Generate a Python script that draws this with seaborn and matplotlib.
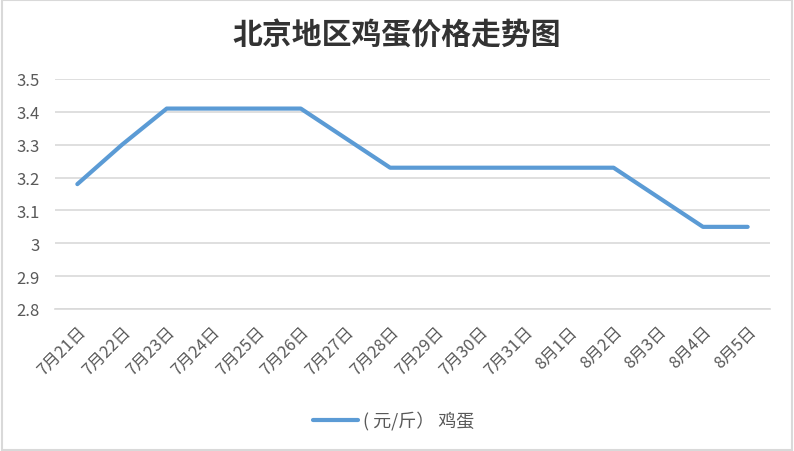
import matplotlib
matplotlib.use("Agg")
import matplotlib.pyplot as plt
import seaborn as sns
import pandas as pd
from matplotlib.patches import Rectangle
from matplotlib.transforms import ScaledTranslation

dates = ["7月21日", "7月22日", "7月23日", "7月24日", "7月25日", "7月26日", "7月27日", "7月28日",
         "7月29日", "7月30日", "7月31日", "8月1日", "8月2日", "8月3日", "8月4日", "8月5日"]
prices = [3.18, 3.30, 3.41, 3.41, 3.41, 3.41, 3.32, 3.23,
          3.23, 3.23, 3.23, 3.23, 3.23, 3.14, 3.05, 3.05]
series_name = "( 元/斤） 鸡蛋"
yticks = [2.8, 2.9, 3.0, 3.1, 3.2, 3.3, 3.4, 3.5]
ytick_labels = ["2.8", "2.9", "3", "3.1", "3.2", "3.3", "3.4", "3.5"]
title = "北京地区鸡蛋价格走势图"

sns.set_theme(style="white")
plt.rcParams['font.family'] = ['Noto Sans CJK SC', 'DejaVu Sans']

df = pd.DataFrame({"date": dates, "price": prices, "series": series_name})
df["x"] = range(len(dates))

fig = plt.figure(figsize=(7.94, 4.52), dpi=100)
ax = fig.add_axes([55 / 794, 1 - 310 / 452, (770 - 55) / 794, (310 - 80) / 452])

sns.lineplot(data=df, x="x", y="price", hue="series", palette=["#5B9BD5"],
             linewidth=3.0, ax=ax, legend=False)

ax.set_xlim(-0.5, len(dates) - 0.5)
ax.set_ylim(2.8, 3.5)
ax.set_yticks(yticks)
ax.set_yticklabels(ytick_labels, color="#595959", fontsize=12)
ax.set_xticks(range(len(dates)))
ax.set_xticklabels(dates, rotation=45, ha="right", rotation_mode="anchor",
                   color="#595959", fontsize=12)
for lbl in ax.get_xticklabels():
    lbl.set_transform(lbl.get_transform() + ScaledTranslation(7 / 100, 0, fig.dpi_scale_trans))
ax.set_xticks([i - 0.5 for i in range(len(dates) + 1)], minor=True)
ax.tick_params(axis="x", which="major", length=0, pad=10)
ax.tick_params(axis="x", which="minor", length=5, color="#D9D9D9", width=1.2, direction="out")
ax.tick_params(axis="y", length=0, pad=11)
ax.set_xlabel("")
ax.set_ylabel("")
ax.grid(axis="y", color="#D9D9D9", linewidth=1.2)
ax.set_axisbelow(True)
for s in ["top", "right", "left"]:
    ax.spines[s].set_visible(False)
ax.spines["bottom"].set_color("#D9D9D9")
ax.spines["bottom"].set_linewidth(1.2)

fig.text(0.5, 1 - 36 / 452, title, ha="center", va="center", fontsize=21.5,
         color="#333333", fontweight="bold")

# legend
lx0, lx1, ly = 313 / 794, 358 / 794, 1 - 421 / 452
fig.lines.append(plt.Line2D([lx0, lx1], [ly, ly], transform=fig.transFigure,
                            color="#5B9BD5", linewidth=3.0))
fig.text(363 / 794, ly, series_name, ha="left", va="center", fontsize=13, color="#595959")

fig.patches.append(Rectangle((0.002, 0.003), 0.996, 0.994, transform=fig.transFigure,
                             fill=False, edgecolor="#D9D9D9", linewidth=1.5))

fig.savefig("out.png", dpi=100)
